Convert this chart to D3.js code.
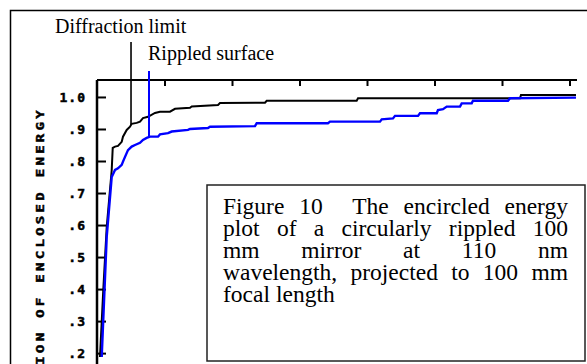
<!DOCTYPE html>
<html>
<head>
<meta charset="utf-8">
<script src="https://cdn.jsdelivr.net/npm/d3@7"></script>
<style>
  html, body { margin: 0; padding: 0; background: #fff; }
  svg { display: block; }
</style>
</head>
<body>
<svg id="chart"></svg>
<script>
// radius in top-axis tick units, fraction of enclosed energy
const diffractionX = [0.044, 0.093, 0.144, 0.218, 0.233, 0.267, 0.311, 0.366, 0.385, 0.440, 0.489, 0.514,
  0.588, 0.637, 0.681, 0.756, 0.859, 0.933, 1.081, 1.156, 1.378, 1.403, 1.793, 1.822, 2.489, 2.514,
  3.847, 3.867, 6.267, 6.281, 7.096];
const diffractionY = [0.188, 0.397, 0.594, 0.772, 0.841, 0.845, 0.847, 0.860, 0.876, 0.897, 0.907, 0.916,
  0.919, 0.923, 0.934, 0.938, 0.950, 0.954, 0.954, 0.963, 0.966, 0.970, 0.975, 0.981, 0.982, 0.988,
  0.988, 0.996, 0.996, 1.006, 1.006];

const rippledX = [0.070, 0.144, 0.218, 0.267, 0.311, 0.366, 0.385, 0.415, 0.459, 0.514, 0.563, 0.637,
  0.681, 0.736, 0.785, 0.904, 0.933, 1.052, 1.107, 1.348, 1.378, 1.644, 1.674, 2.341, 2.366, 3.422,
  3.452, 4.193, 4.218, 4.385, 4.415, 4.756, 4.785, 5.033, 5.052, 5.126, 5.181, 5.378, 5.403, 5.551,
  5.570, 6.089, 6.119, 7.096];
const rippledY = [0.188, 0.563, 0.750, 0.772, 0.777, 0.788, 0.798, 0.813, 0.834, 0.845, 0.850, 0.857,
  0.866, 0.872, 0.876, 0.876, 0.883, 0.887, 0.892, 0.897, 0.900, 0.903, 0.907, 0.909, 0.918, 0.918,
  0.923, 0.923, 0.930, 0.933, 0.941, 0.941, 0.949, 0.949, 0.959, 0.962, 0.970, 0.970, 0.980, 0.980,
  0.988, 0.988, 0.996, 0.998];

const markerX = [0.504, 0.770];
const markerLabels = ['Diffraction limit', 'Rippled surface'];

const xTicks = [1, 2, 3, 4, 5, 6, 7];
const yTicks = [0.2, 0.3, 0.4, 0.5, 0.6, 0.7, 0.8, 0.9, 1.0];
const yTickLabels = ['.2', '.3', '.4', '.5', '.6', '.7', '.8', '.9', '1.0'];
const yTitle = 'FRACTION OF ENCLOSED ENERGY';

const captionLines = [
  'Figure 10  The encircled energy',
  'plot of a circularly rippled 100',
  'mm mirror at 110 nm',
  'wavelength, projected to 100 mm',
  'focal length'
];

const W = 587, H = 364;
const plot = { left: 97, right: 577, top: 80, bottom: 364 };

const svg = d3.select('#chart').attr('width', W).attr('height', H);

const x = d3.scaleLinear().domain([0, 480 / 67.5]).range([plot.left, plot.right]);
const y = d3.scaleLinear().domain([0.166, 1.053]).range([plot.bottom, plot.top]);

// outer frame
svg.append('path')
  .attr('d', `M10.5,${H} V10.5 H${W}`)
  .attr('fill', 'none').attr('stroke', '#000').attr('stroke-width', 1.5);

// axes: ticks point inwards
const leftAxis = svg.append('g').attr('transform', `translate(${plot.left},0)`)
  .call(d3.axisRight(y).tickValues(yTicks).tickSize(9).tickFormat(''));
const topAxis = svg.append('g').attr('transform', `translate(0,${plot.top})`)
  .call(d3.axisBottom(x).tickValues(xTicks).tickSize(6).tickFormat(''));
leftAxis.select('.domain').attr('d', `M0,${plot.top}V${plot.bottom}`).attr('stroke-width', 2.5);
topAxis.select('.domain').attr('d', `M${plot.left},0H${plot.right}`).attr('stroke-width', 2.2);
svg.selectAll('.tick line').attr('stroke-width', 2);

const tickSpacing = 1;
svg.append('g').selectAll('text').data(yTicks).join('text')
  .attr('x', 85 + tickSpacing).attr('y', d => y(d))
  .attr('dy', '0.36em')
  .attr('text-anchor', 'end')
  .attr('font-family', 'DejaVu Sans Mono').attr('font-weight', 'bold')
  .attr('font-size', 13).attr('letter-spacing', tickSpacing)
  .attr('stroke', '#000').attr('stroke-width', 0.5)
  .text((d, i) => yTickLabels[i]);

svg.append('text')
  .attr('transform', `translate(40,107) rotate(-90) scale(1,0.8)`)
  .attr('text-anchor', 'end').attr('dy', '0.36em')
  .attr('font-family', 'DejaVu Sans Mono').attr('font-weight', 'bold')
  .attr('font-size', 14).attr('letter-spacing', 3.3)
  .attr('stroke', '#000').attr('stroke-width', 0.6)
  .text(yTitle);

// curves
const line = d3.line().x(d => x(d[0])).y(d => y(d[1]));
const diffraction = d3.zip(diffractionX, diffractionY);
const rippled = d3.zip(rippledX, rippledY);

svg.append('path').datum(diffraction)
  .attr('d', line).attr('fill', 'none').attr('stroke', '#000').attr('stroke-width', 2);
svg.append('path').datum(rippled)
  .attr('d', line).attr('fill', 'none').attr('stroke', '#0000ff').attr('stroke-width', 2.4);

// marker lines down to the curve
function valueAt(xs, ys, v) {
  const i = d3.bisectLeft(xs, v);
  const t = (v - xs[i - 1]) / (xs[i] - xs[i - 1]);
  return ys[i - 1] + t * (ys[i] - ys[i - 1]);
}
const markerTop = [42, 71];
const markerColor = ['#000', '#0000ff'];
const markerEnd = [valueAt(diffractionX, diffractionY, markerX[0]), valueAt(rippledX, rippledY, markerX[1])];
markerX.forEach((m, i) => {
  svg.append('line')
    .attr('x1', x(m)).attr('x2', x(m))
    .attr('y1', markerTop[i]).attr('y2', y(markerEnd[i]))
    .attr('stroke', markerColor[i]).attr('stroke-width', i ? 2 : 1.6);
});

svg.append('text').attr('x', 55).attr('y', 33)
  .attr('font-family', 'Liberation Serif').attr('font-size', 20)
  .text(markerLabels[0]);
svg.append('text').attr('x', 148).attr('y', 60)
  .attr('font-family', 'Liberation Serif').attr('font-size', 20)
  .text(markerLabels[1]);

// caption box, justified word by word
svg.append('rect')
  .attr('x', 207).attr('y', 185).attr('width', 378).attr('height', 176)
  .attr('fill', '#fff').attr('stroke', '#222').attr('stroke-width', 1.5);

const caption = svg.append('g')
  .attr('font-family', 'Liberation Serif').attr('font-size', 23.5);
const textLeft = 223, textRight = 568, firstBase = 214, lineStep = 22;

captionLines.forEach((str, li) => {
  const words = [];
  const gaps = [];
  let pending = 0;
  str.split(' ').forEach(tok => {
    if (tok === '') { pending += 1; return; }
    if (words.length) gaps.push(1 + pending);
    pending = 0;
    words.push(tok);
  });
  const nodes = words.map(w => caption.append('text').attr('y', firstBase + li * lineStep).text(w));
  const widths = nodes.map(n => n.node().getComputedTextLength());
  const last = li === captionLines.length - 1;
  const space = last ? 6 : (textRight - textLeft - d3.sum(widths)) / d3.sum(gaps);
  let cx = textLeft;
  nodes.forEach((n, i) => {
    n.attr('x', cx);
    cx += widths[i] + (i < gaps.length ? gaps[i] * space : 0);
  });
});
</script>
</body>
</html>
